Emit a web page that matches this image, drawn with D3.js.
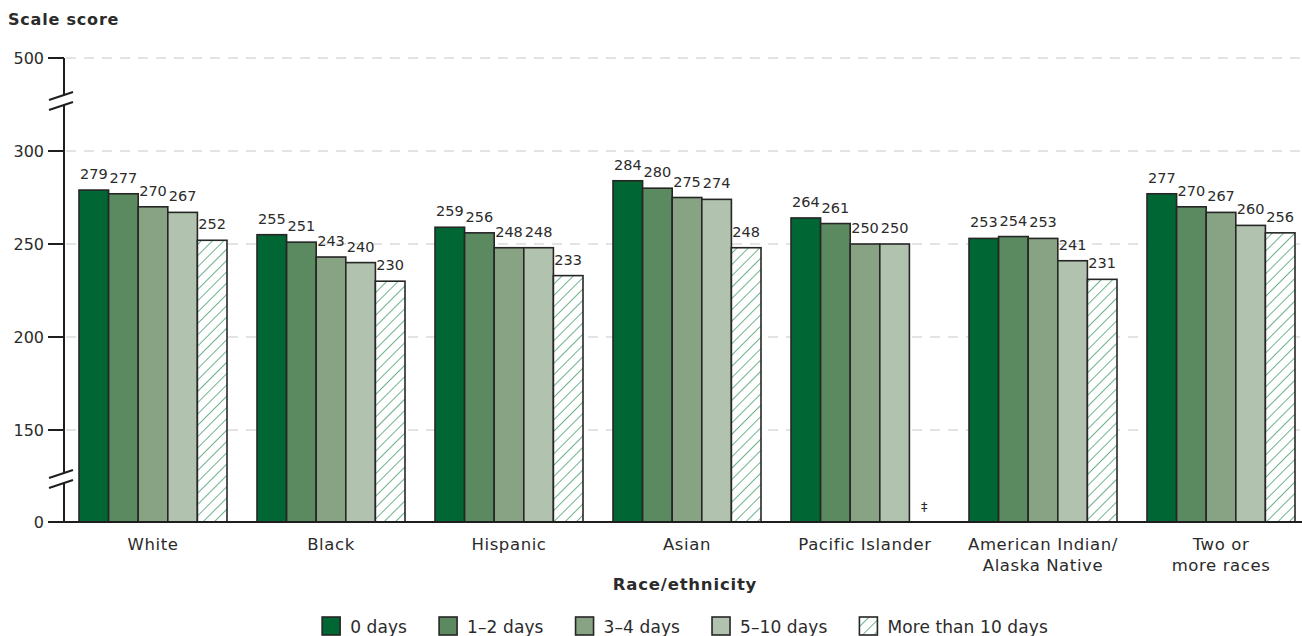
<!DOCTYPE html>
<html><head><meta charset="utf-8">
<script src="https://cdn.jsdelivr.net/npm/d3@7"></script>
<style>body{margin:0;background:#fff}svg{display:block}text{font-family:"DejaVu Sans",sans-serif;fill:#2b2b2b}</style>
</head><body><svg id="c" width="1302" height="636"></svg>
<script>
const categories = ["White","Black","Hispanic","Asian","Pacific Islander","American Indian/\nAlaska Native","Two or\nmore races"];
const seriesNames = ["0 days","1–2 days","3–4 days","5–10 days","More than 10 days"];
const days0 = [279,255,259,284,264,253,277];
const days1to2 = [277,251,256,280,261,254,270];
const days3to4 = [270,243,248,275,250,253,267];
const days5to10 = [267,240,248,274,250,241,260];
const daysOver10 = [252,230,233,248,null,231,256];
const yTicks = [0,150,200,250,300,500];
const gridTicks = [150,200,250,300,500];
const colors = ["#006633","#5b8a60","#87a383","#b1c3ae","url(#hatch)"];

const series = [days0,days1to2,days3to4,days5to10,daysOver10];
const svg = d3.select("#c");
const defs = svg.append("defs");
const pat = defs.append("pattern").attr("id","hatch").attr("patternUnits","userSpaceOnUse")
  .attr("width",8).attr("height",8).attr("patternTransform","rotate(45)");
pat.append("rect").attr("width",8).attr("height",8).attr("fill","#fff");
pat.append("line").attr("x1",0).attr("y1",0).attr("x2",0).attr("y2",8).attr("stroke","#1f8a4c").attr("stroke-width",1.3);

const y = d3.scaleLinear().domain([0,150,300,500]).range([522,430,151,58]);
const x0 = d3.scaleBand().domain(categories).range([64,1310]).paddingInner(30/178).paddingOuter(15/178);
const x1 = d3.scaleBand().domain(d3.range(5)).range([0,x0.bandwidth()]);

// gridlines
svg.append("g").selectAll("line").data(gridTicks).join("line")
  .attr("x1",66).attr("x2",1302).attr("y1",d=>y(d)).attr("y2",d=>y(d))
  .attr("stroke","#c8c8c8").attr("stroke-width",1).attr("stroke-dasharray","10,8");

// bars
const g = svg.append("g");
categories.forEach((c,ci)=>{
  series.forEach((s,si)=>{
    const v = s[ci];
    const bx = x0(c)+x1(si);
    if(v==null){
      g.append("text").attr("x",bx+x1.bandwidth()/2).attr("y",511).attr("text-anchor","middle")
        .attr("font-size",13).text("‡");
      return;
    }
    g.append("rect").attr("x",bx).attr("y",y(v)).attr("width",x1.bandwidth()).attr("height",y(0)-y(v))
      .attr("fill",colors[si]).attr("stroke","#262626").attr("stroke-width",1.6);
    g.append("text").attr("x",bx+x1.bandwidth()/2).attr("y",y(v)-11).attr("text-anchor","middle")
      .attr("font-size",14.5).text(v);
  });
});

// y axis
const ax = svg.append("g");
ax.append("line").attr("x1",64).attr("x2",64).attr("y1",y(500)).attr("y2",y(0)).attr("stroke","#1e1e1e").attr("stroke-width",2);
ax.selectAll(".t").data(yTicks).join("line").attr("x1",48).attr("x2",64).attr("y1",d=>y(d)).attr("y2",d=>y(d)).attr("stroke","#1e1e1e").attr("stroke-width",2);
ax.selectAll(".l").data(yTicks).join("text").attr("x",44).attr("y",d=>y(d)+6).attr("text-anchor","end").attr("font-size",16).text(d=>d);
// breaks
[98,476].forEach(cy=>{
  ax.append("path").attr("d",`M49,${cy+2} L73,${cy-6} L73,${cy+4} L49,${cy+12}Z`).attr("fill","#fff");
  ax.append("line").attr("x1",49).attr("y1",cy+2).attr("x2",73).attr("y2",cy-6).attr("stroke","#1e1e1e").attr("stroke-width",2);
  ax.append("line").attr("x1",49).attr("y1",cy+12).attr("x2",73).attr("y2",cy+4).attr("stroke","#1e1e1e").attr("stroke-width",2);
});
// x baseline
svg.append("line").attr("x1",63).attr("x2",1302).attr("y1",y(0)).attr("y2",y(0)).attr("stroke","#1e1e1e").attr("stroke-width",2);

// category labels
categories.forEach(c=>{
  const lines = c.split("\n");
  const cx = x0(c)+x0.bandwidth()/2;
  const t = svg.append("text").attr("x",cx).attr("y",550).attr("text-anchor","middle").attr("font-size",16.5).attr("letter-spacing",0.6);
  lines.forEach((l,i)=>t.append("tspan").attr("x",cx).attr("dy",i?21:0).text(l));
});

svg.append("text").attr("x",8).attr("y",25).attr("font-size",16).attr("font-weight","bold").attr("letter-spacing",0.8).text("Scale score");
svg.append("text").attr("x",685).attr("y",590).attr("text-anchor","middle").attr("font-size",16.5).attr("font-weight","bold").attr("letter-spacing",0.8).text("Race/ethnicity");

// legend
const lg = svg.append("g");
let lx = 0;
seriesNames.forEach((n,i)=>{
  const it = lg.append("g").attr("transform",`translate(${lx},0)`);
  it.append("rect").attr("x",0).attr("y",-9).attr("width",18).attr("height",18).attr("fill",colors[i]).attr("stroke","#262626").attr("stroke-width",1.6);
  const t = it.append("text").attr("x",28).attr("y",6.5).attr("font-size",17).attr("letter-spacing",0.1).text(n);
  lx += 28 + t.node().getComputedTextLength() + 32;
});
const lw = lx - 32;
lg.attr("transform",`translate(${685-lw/2},626)`);
</script></body></html>
